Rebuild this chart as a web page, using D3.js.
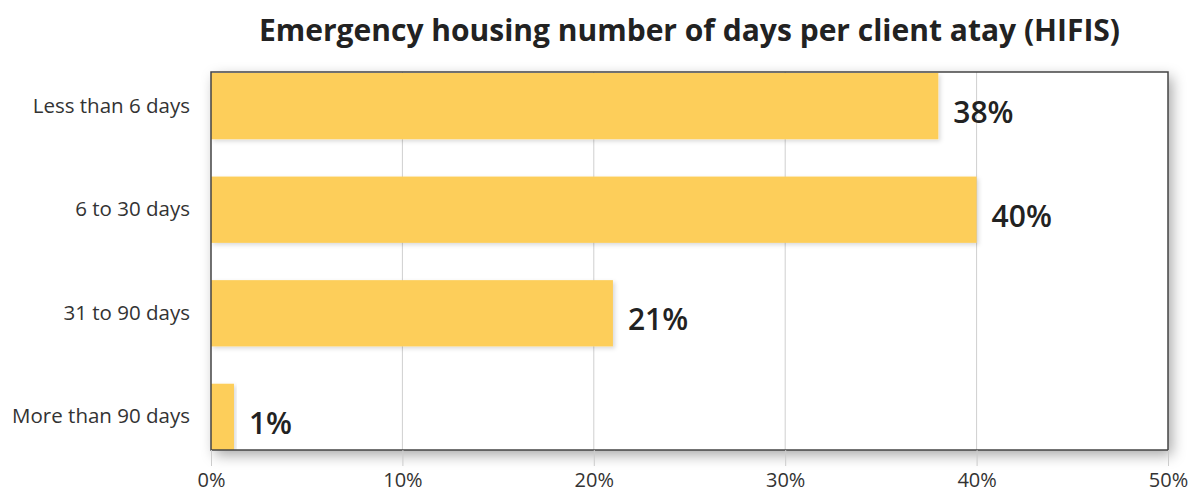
<!DOCTYPE html>
<html>
<head>
<meta charset="utf-8">
<script src="https://cdn.jsdelivr.net/npm/d3@7"></script>
<style>
  body { margin: 0; background: #fff; }
  svg { display: block; font-family: "Open Sans", "DejaVu Sans", sans-serif; }
</style>
</head>
<body>
<div id="chart"></div>
<script>
// datos del gráfico
const categorias = ['Less than 6 days', '6 to 30 days', '31 to 90 days', 'More than 90 days'];
const valores = [38, 40, 21, 1.2];
const etiquetasValor = ['38%', '40%', '21%', '1%'];
const ticksX = [0, 10, 20, 30, 40, 50];
const titulo = 'Emergency housing number of days per client atay (HIFIS)';

const ancho = 1198, alto = 495;
const izq = 211, der = 1168, arriba = 72, abajo = 450;

const svg = d3.select('#chart').append('svg')
    .attr('width', ancho)
    .attr('height', alto);

const defs = svg.append('defs');
defs.append('filter').attr('id', 'sombraMarco')
    .attr('x', '-5%').attr('y', '-10%').attr('width', '112%').attr('height', '125%')
    .append('feDropShadow')
    .attr('dx', 4).attr('dy', 5).attr('stdDeviation', 7)
    .attr('flood-color', '#000').attr('flood-opacity', 0.35);
defs.append('filter').attr('id', 'sombraBarra')
    .attr('x', '-5%').attr('y', '-10%').attr('width', '115%').attr('height', '130%')
    .append('feDropShadow')
    .attr('dx', 2).attr('dy', 2).attr('stdDeviation', 2)
    .attr('flood-color', '#000').attr('flood-opacity', 0.15);
defs.append('clipPath').attr('id', 'recorte')
    .append('rect')
    .attr('x', izq).attr('y', arriba)
    .attr('width', der - izq).attr('height', abajo - arriba);

const x = d3.scaleLinear().domain([0, 50]).range([izq, der]);
const y = d3.scaleBand().domain(categorias).range([arriba + 1, abajo])
    .paddingInner(0.36).paddingOuter(0).align(0);

// titulo
svg.append('text')
    .attr('x', (izq + der) / 2)
    .attr('y', 41)
    .attr('text-anchor', 'middle')
    .style('font-size', '30px')
    .style('font-weight', '700')
    .style('fill', '#222')
    .text(titulo);

// fondo del area con sombra
svg.append('rect')
    .attr('x', izq).attr('y', arriba)
    .attr('width', der - izq).attr('height', abajo - arriba)
    .attr('fill', '#fff')
    .attr('filter', 'url(#sombraMarco)');

// rejilla
svg.append('g')
    .selectAll('line')
    .data(ticksX.slice(1, -1))
    .enter().append('line')
    .attr('x1', d => x(d)).attr('x2', d => x(d))
    .attr('y1', arriba).attr('y2', abajo)
    .attr('stroke', '#cfcfcf')
    .attr('stroke-width', 1);

// barras
const grupoBarras = svg.append('g').attr('clip-path', 'url(#recorte)');
grupoBarras.selectAll('rect')
    .data(valores)
    .enter().append('rect')
    .attr('x', x(0))
    .attr('y', (d, i) => y(categorias[i]))
    .attr('width', d => x(d) - x(0))
    .attr('height', y.bandwidth())
    .attr('fill', '#fdce5a')
    .attr('filter', 'url(#sombraBarra)');

// etiquetas de valor
svg.append('g')
    .selectAll('text')
    .data(valores)
    .enter().append('text')
    .attr('x', d => x(d) + 15)
    .attr('y', (d, i) => y(categorias[i]) + y.bandwidth() / 2 + 17)
    .style('font-size', '30px')
    .style('font-weight', '600')
    .style('fill', '#222')
    .text((d, i) => etiquetasValor[i]);

// marco
svg.append('rect')
    .attr('x', izq).attr('y', arriba)
    .attr('width', der - izq).attr('height', abajo - arriba)
    .attr('fill', 'none')
    .attr('stroke', '#444')
    .attr('stroke-width', 1.5);

// eje x
const ejeX = svg.append('g')
    .attr('transform', `translate(0,${abajo})`)
    .call(d3.axisBottom(x).tickValues(ticksX).tickFormat(d => d + '%').tickSize(16).tickSizeOuter(0));
ejeX.select('.domain').remove();
ejeX.selectAll('.tick line').attr('stroke', '#ccc');
ejeX.selectAll('.tick text')
    .attr('y', 23)
    .attr('dy', '0.71em')
    .style('font-size', '20px')
    .style('font-family', '"Open Sans", sans-serif')
    .style('fill', '#333');

// eje y
const ejeY = svg.append('g')
    .attr('transform', `translate(${izq},0)`)
    .call(d3.axisLeft(y).tickSize(0).tickPadding(21));
ejeY.select('.domain').remove();
ejeY.selectAll('.tick text')
    .style('font-size', '20.5px')
    .style('font-family', '"Open Sans", sans-serif')
    .style('fill', '#333');
</script>
</body>
</html>
